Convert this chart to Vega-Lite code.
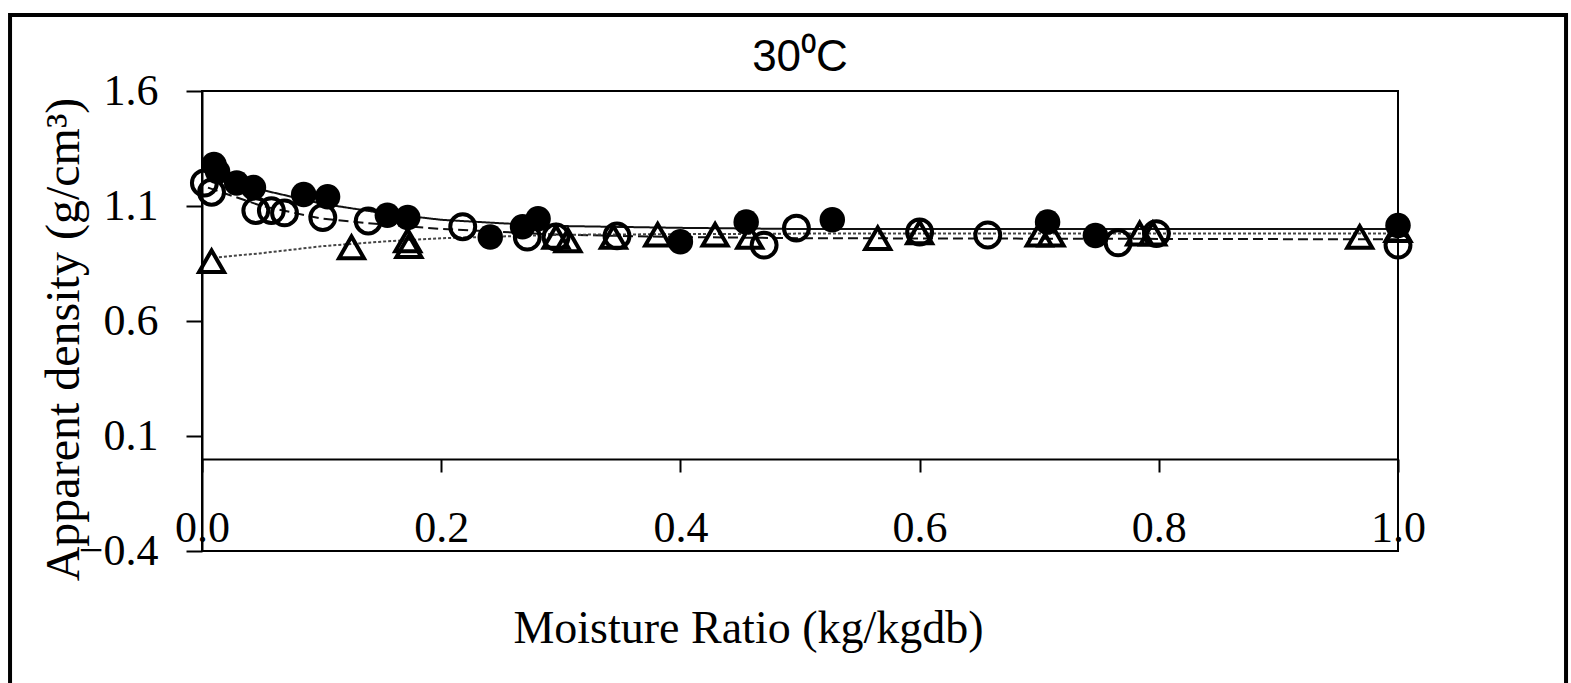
{
  "$schema": "https://vega.github.io/schema/vega-lite/v6.json",
  "width": 1196,
  "height": 460,
  "autosize": {"type": "none"},
  "padding": {"left": 202, "top": 91, "right": 173, "bottom": 132},
  "background": "white",
  "title": {
    "text": "30⁰C",
    "font": "Liberation Sans",
    "fontSize": 44,
    "fontWeight": "normal",
    "color": "black",
    "anchor": "middle",
    "baseline": "alphabetic",
    "offset": -102
  },
  "config": {
    "view": {"stroke": "black", "strokeWidth": 2},
    "axis": {
      "grid": false,
      "domainColor": "black",
      "domainWidth": 2,
      "tickColor": "black",
      "tickWidth": 2,
      "labelFont": "Liberation Serif",
      "labelFontSize": 44,
      "labelColor": "black",
      "titleFont": "Liberation Serif",
      "titleFontSize": 46,
      "titleFontWeight": "normal",
      "titleColor": "black"
    }
  },
  "datasets": {
    "pts": [
      {"series": "A", "x": 0.010, "y": 1.28},
      {"series": "A", "x": 0.013, "y": 1.25},
      {"series": "A", "x": 0.029, "y": 1.20},
      {"series": "A", "x": 0.043, "y": 1.18},
      {"series": "A", "x": 0.085, "y": 1.15},
      {"series": "A", "x": 0.105, "y": 1.14},
      {"series": "A", "x": 0.155, "y": 1.06},
      {"series": "A", "x": 0.172, "y": 1.05},
      {"series": "A", "x": 0.241, "y": 0.965},
      {"series": "A", "x": 0.268, "y": 1.01},
      {"series": "A", "x": 0.281, "y": 1.045},
      {"series": "A", "x": 0.400, "y": 0.945},
      {"series": "A", "x": 0.455, "y": 1.03},
      {"series": "A", "x": 0.527, "y": 1.04},
      {"series": "A", "x": 0.707, "y": 1.03},
      {"series": "A", "x": 0.747, "y": 0.972},
      {"series": "A", "x": 1.000, "y": 1.015},
      {"series": "B", "x": 0.002, "y": 1.20},
      {"series": "B", "x": 0.008, "y": 1.16},
      {"series": "B", "x": 0.045, "y": 1.08},
      {"series": "B", "x": 0.058, "y": 1.08},
      {"series": "B", "x": 0.069, "y": 1.07},
      {"series": "B", "x": 0.101, "y": 1.05},
      {"series": "B", "x": 0.139, "y": 1.035},
      {"series": "B", "x": 0.218, "y": 1.01},
      {"series": "B", "x": 0.272, "y": 0.965},
      {"series": "B", "x": 0.296, "y": 0.965},
      {"series": "B", "x": 0.347, "y": 0.97},
      {"series": "B", "x": 0.470, "y": 0.93},
      {"series": "B", "x": 0.497, "y": 1.004},
      {"series": "B", "x": 0.600, "y": 0.987},
      {"series": "B", "x": 0.657, "y": 0.974},
      {"series": "B", "x": 0.766, "y": 0.94},
      {"series": "B", "x": 0.798, "y": 0.98},
      {"series": "B", "x": 1.000, "y": 0.93},
      {"series": "C", "x": 0.008, "y": 0.86},
      {"series": "C", "x": 0.125, "y": 0.92},
      {"series": "C", "x": 0.172, "y": 0.95},
      {"series": "C", "x": 0.173, "y": 0.925},
      {"series": "C", "x": 0.296, "y": 0.965},
      {"series": "C", "x": 0.306, "y": 0.95},
      {"series": "C", "x": 0.344, "y": 0.965},
      {"series": "C", "x": 0.381, "y": 0.975},
      {"series": "C", "x": 0.429, "y": 0.975},
      {"series": "C", "x": 0.458, "y": 0.965},
      {"series": "C", "x": 0.565, "y": 0.96},
      {"series": "C", "x": 0.600, "y": 0.985},
      {"series": "C", "x": 0.700, "y": 0.975},
      {"series": "C", "x": 0.710, "y": 0.975},
      {"series": "C", "x": 0.784, "y": 0.98},
      {"series": "C", "x": 0.795, "y": 0.98},
      {"series": "C", "x": 0.968, "y": 0.965},
      {"series": "C", "x": 1.000, "y": 0.995}
    ],
    "fits": [
      {"series": "A", "x": 0.005, "y": 1.25},
      {"series": "A", "x": 0.05, "y": 1.17},
      {"series": "A", "x": 0.10, "y": 1.11},
      {"series": "A", "x": 0.15, "y": 1.07},
      {"series": "A", "x": 0.20, "y": 1.04},
      {"series": "A", "x": 0.25, "y": 1.025},
      {"series": "A", "x": 0.30, "y": 1.013},
      {"series": "A", "x": 0.40, "y": 1.005},
      {"series": "A", "x": 0.50, "y": 1.0},
      {"series": "A", "x": 1.00, "y": 1.0},
      {"series": "B", "x": 0.005, "y": 1.18},
      {"series": "B", "x": 0.05, "y": 1.10},
      {"series": "B", "x": 0.10, "y": 1.045},
      {"series": "B", "x": 0.15, "y": 1.02},
      {"series": "B", "x": 0.20, "y": 1.0},
      {"series": "B", "x": 0.30, "y": 0.975},
      {"series": "B", "x": 0.40, "y": 0.965},
      {"series": "B", "x": 0.50, "y": 0.96},
      {"series": "B", "x": 1.00, "y": 0.955},
      {"series": "C", "x": 0.01, "y": 0.875},
      {"series": "C", "x": 0.05, "y": 0.895},
      {"series": "C", "x": 0.10, "y": 0.925},
      {"series": "C", "x": 0.15, "y": 0.945},
      {"series": "C", "x": 0.20, "y": 0.96},
      {"series": "C", "x": 0.30, "y": 0.975},
      {"series": "C", "x": 0.50, "y": 0.98},
      {"series": "C", "x": 1.00, "y": 0.98}
    ],
    "frame": [{"x0": -0.1605, "x1": 1.1405, "y0": 1.93, "y1": -1.1}]
  },
  "layer": [
    {
      "data": {"name": "frame"},
      "mark": {"type": "rect", "filled": false, "stroke": "black", "strokeWidth": 4, "clip": false},
      "encoding": {
        "x": {"field": "x0", "type": "quantitative", "scale": {"domain": [0, 1], "nice": false, "zero": false}},
        "x2": {"field": "x1"},
        "y": {"field": "y0", "type": "quantitative", "scale": {"domain": [-0.4, 1.6], "nice": false, "zero": false}},
        "y2": {"field": "y1"}
      }
    },
    {
      "data": {"name": "fits"},
      "mark": {"type": "line", "strokeWidth": 2},
      "encoding": {
        "x": {"field": "x", "type": "quantitative"},
        "y": {"field": "y", "type": "quantitative"},
        "detail": {"field": "series"},
        "color": {"field": "series", "type": "nominal", "scale": {"domain": ["A", "B", "C"], "range": ["#111111", "#111111", "#444444"]}, "legend": null},
        "strokeDash": {"field": "series", "type": "nominal", "scale": {"domain": ["A", "B", "C"], "range": [[1, 0], [10, 5], [3, 2]]}, "legend": null}
      }
    },
    {
      "data": {"name": "pts"},
      "transform": [{"filter": "datum.series === 'A'"}],
      "mark": {"type": "point", "shape": "circle", "filled": true, "size": 650, "color": "black", "opacity": 1},
      "encoding": {
        "x": {"field": "x", "type": "quantitative"},
        "y": {"field": "y", "type": "quantitative"}
      }
    },
    {
      "data": {"name": "pts"},
      "transform": [{"filter": "datum.series !== 'A'"}],
      "mark": {"type": "point", "filled": false, "size": 620, "strokeWidth": 4, "color": "black", "opacity": 1},
      "encoding": {
        "x": {
          "field": "x", "type": "quantitative",
          "axis": {
            "title": "Moisture Ratio (kg/kgdb)",
            "values": [0, 0.2, 0.4, 0.6, 0.8, 1.0],
            "format": ".1f",
            "offset": -92,
            "tickSize": 13,
            "labelPadding": 69,
            "labelBaseline": "alphabetic",
            "labelFlush": false,
            "labelOverlap": false,
            "titleX": 546,
            "titleY": 183,
            "titleAlign": "center",
            "titleBaseline": "alphabetic"
          }
        },
        "y": {
          "field": "y", "type": "quantitative",
          "axis": {
            "title": "Apparent density (g/cm³)",
            "titleFontSize": 48,
            "values": [-0.4, 0.1, 0.6, 1.1, 1.6],
            "format": ".1f",
            "tickSize": 16,
            "labelPadding": 28,
            "labelFlush": false,
            "labelOverlap": false,
            "titleAngle": -90,
            "titleX": -124,
            "titleY": 248,
            "titleAlign": "center",
            "titleBaseline": "alphabetic"
          }
        },
        "shape": {"field": "series", "type": "nominal", "scale": {"domain": ["B", "C"], "range": ["circle", "triangle-up"]}, "legend": null}
      }
    }
  ]
}
